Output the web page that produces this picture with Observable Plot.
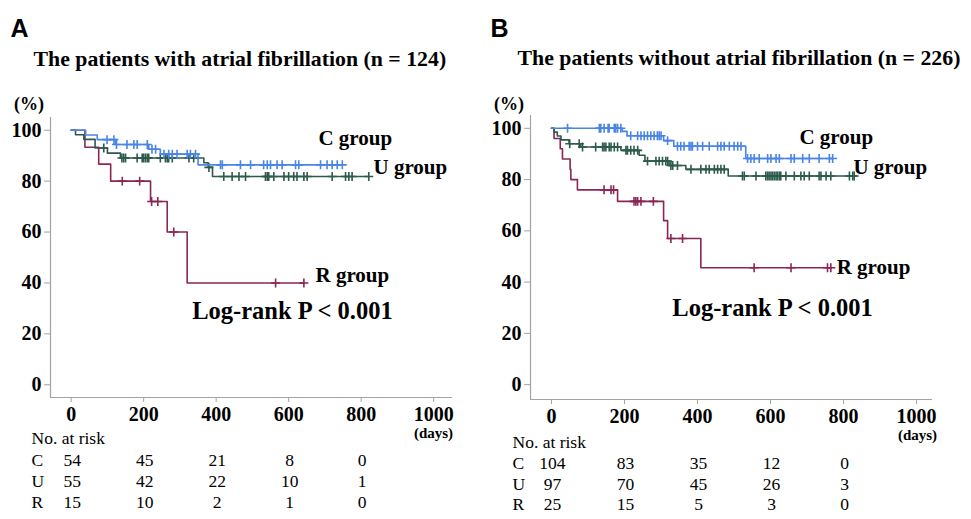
<!DOCTYPE html>
<html>
<head>
<meta charset="utf-8">
<script src="https://cdn.jsdelivr.net/npm/d3@7"></script>
<script src="https://cdn.jsdelivr.net/npm/@observablehq/plot@0.6"></script>
<style>
  html, body { margin: 0; padding: 0; background: #fff; }
  #wrap { position: relative; width: 971px; height: 519px; overflow: hidden; background: #fff; }
  #wrap svg { position: absolute; top: 0; overflow: visible; font-family: "Liberation Serif", "Times New Roman", serif; }
</style>
</head>
<body>
<div id="wrap"></div>
<script>
// ---------- Data ----------
const riskTimes = [0, 200, 400, 600, 800];
const xTicks = [0, 200, 400, 600, 800, 1000];
const yTicks = [0, 20, 40, 60, 80, 100];
const groupNames = ["C", "U", "R"];

// Panel A: patients with atrial fibrillation (n = 124)
const A_C_time = [0, 40, 72, 122, 214, 246, 350, 748];
const A_C_surv = [100, 98.1, 96.3, 94.4, 92.5, 90.6, 86.4, 86.4];
const A_C_cens = [99, 118, 125, 154, 173, 182, 210, 223, 233, 256, 269, 279, 292, 320, 329, 343, 412, 417, 467, 495, 531, 541, 550, 568, 582, 619, 628, 688, 706, 720, 734, 748];

const A_U_time = [0, 12, 35, 66, 100, 136, 366, 378, 390, 821];
const A_U_surv = [100, 98.2, 96.4, 93.0, 91.0, 89.1, 87.2, 85.4, 81.8, 81.8];
const A_U_cens = [90, 140, 145, 150, 182, 196, 200, 205, 210, 214, 246, 260, 265, 269, 279, 325, 338, 380, 421, 444, 463, 481, 536, 541, 545, 559, 587, 600, 614, 623, 642, 651, 720, 757, 766, 775, 821];

const A_R_time = [0, 38, 76, 109, 219, 265, 320, 642];
const A_R_surv = [100, 93.3, 86.7, 80, 72, 60, 40, 40];
const A_R_cens = [141, 189, 222, 239, 283, 564, 642];

const A_risk_C = [54, 45, 21, 8, 0];
const A_risk_U = [55, 42, 22, 10, 1];
const A_risk_R = [15, 10, 2, 1, 0];

// Panel B: patients without atrial fibrillation (n = 226)
const B_C_time = [0, 194, 207, 307, 335, 532, 770];
const B_C_surv = [100, 98.8, 97.1, 95.2, 93.0, 88.2, 88.2];
const B_C_cens = [44, 131, 135, 144, 155, 158, 172, 176, 181, 190, 217, 236, 245, 254, 263, 272, 281, 290, 295, 300, 318, 345, 354, 363, 377, 382, 386, 400, 414, 432, 455, 464, 473, 487, 500, 510, 519, 537, 546, 555, 569, 592, 601, 615, 624, 656, 665, 688, 706, 733, 761, 770];

const B_U_time = [0, 7, 16, 26, 48, 80, 190, 240, 256, 322, 368, 484, 829];
const B_U_surv = [100, 98.5, 97, 95.5, 94.0, 92.7, 91.4, 89.5, 87.2, 85.5, 84.0, 81.4, 81.4];
const B_U_cens = [50, 76, 85, 121, 140, 144, 149, 158, 163, 172, 181, 204, 208, 217, 226, 236, 263, 286, 295, 304, 313, 318, 327, 332, 345, 382, 409, 423, 432, 446, 455, 464, 473, 523, 528, 560, 587, 592, 596, 601, 605, 610, 615, 619, 624, 628, 642, 665, 683, 692, 706, 733, 738, 752, 765, 816, 825, 829];

const B_R_time = [0, 7, 24, 30, 51, 53, 71, 181, 307, 318, 409, 765];
const B_R_surv = [100, 96, 92, 88, 84, 80, 76, 71.5, 64, 57, 45.6, 45.6];
const B_R_cens = [144, 163, 170, 226, 231, 236, 245, 279, 327, 359, 555, 656, 756, 765];

const B_risk_C = [104, 83, 35, 12, 0];
const B_risk_U = [97, 70, 45, 26, 3];
const B_risk_R = [25, 15, 5, 3, 0];

// ---------- Style ----------
const colors = { C: "#4a85e6", U: "#2c5a4c", R: "#8a2656" };
const axisGray = "#a3a3a3";

// ---------- Helpers ----------
function stepData(times, surv) {
  return times.map((t, i) => ({ t, s: surv[i] }));
}
function levelAt(times, surv, t) {
  let v = surv[0];
  for (let i = 0; i < times.length; i++) if (times[i] <= t) v = surv[i];
  return v;
}
function censData(times, surv, cens) {
  return cens.map(t => ({ t, s: levelAt(times, surv, t) }));
}

function panel(cfg) {
  const groups = [
    { g: "R", time: cfg.R_time, surv: cfg.R_surv, cens: cfg.R_cens },
    { g: "U", time: cfg.U_time, surv: cfg.U_surv, cens: cfg.U_cens },
    { g: "C", time: cfg.C_time, surv: cfg.C_surv, cens: cfg.C_cens }
  ];
  const marks = [];
  // axis lines
  marks.push(Plot.ruleX([cfg.xDomain[0]], { stroke: axisGray, strokeWidth: 1.2 }));
  marks.push(Plot.ruleY([cfg.yDomain[0]], { stroke: axisGray, strokeWidth: 1.2 }));
  marks.push(Plot.axisY({ ticks: yTicks, tickSize: 6, tickPadding: 3, fontSize: 20, fontWeight: "bold", stroke: axisGray, fill: "#000", label: null }));
  marks.push(Plot.axisX({ ticks: xTicks, tickFormat: d => String(d), tickSize: 5, tickPadding: 4, fontSize: 20, fontWeight: "bold", stroke: axisGray, fill: "#000", label: null }));
  for (const G of groups) {
    marks.push(Plot.line(stepData(G.time, G.surv), { x: "t", y: "s", curve: "step-after", stroke: colors[G.g], strokeWidth: 1.6 }));
    marks.push(Plot.dot(censData(G.time, G.surv, G.cens), { x: "t", y: "s", symbol: "plus", r: 3, stroke: colors[G.g], strokeWidth: 1.6 }));
  }
  // group labels and log-rank
  const lab = cfg.labels;
  for (const k of groupNames) {
    marks.push(Plot.text([`${k} group`], { x: lab[k][0], y: lab[k][1], text: d => d, textAnchor: "start", fontSize: 21, fontWeight: "bold", fill: "#000" }));
  }
  marks.push(Plot.text(["Log-rank P < 0.001"], { x: lab.P[0], y: lab.P[1], text: d => d, textAnchor: "start", fontSize: 24.5, fontWeight: "bold", fill: "#000" }));
  // panel letter, title, units
  marks.push(Plot.text([cfg.letter], { frameAnchor: "top-left", dx: -40, dy: cfg.letterDy, text: d => d, textAnchor: "start", fontSize: 25, fontWeight: "bold", fontFamily: "Liberation Sans, Arial, sans-serif", fill: "#000" }));
  marks.push(Plot.text([cfg.title], { frameAnchor: "top-left", dx: cfg.titleDx, dy: cfg.titleDy, text: d => d, textAnchor: "start", fontSize: 21.8, fontWeight: "bold", fill: "#000" }));
  marks.push(Plot.text(["(%)"], { frameAnchor: "top-left", dx: -21.5, dy: cfg.pctDy, text: d => d, textAnchor: "middle", fontSize: 18, fontWeight: "bold", fill: "#000" }));
  marks.push(Plot.text(["(days)"], { frameAnchor: "bottom-right", dx: cfg.daysDx, dy: 40, text: d => d, textAnchor: "middle", fontSize: 15, fontWeight: "bold", fill: "#000" }));
  // number at risk table
  marks.push(Plot.text(["No. at risk"], { frameAnchor: "bottom-left", dx: cfg.tableDx, dy: cfg.rowDy[0], text: d => d, textAnchor: "start", fontSize: 17.5, fill: "#000" }));
  const riskRows = [cfg.risk_C, cfg.risk_U, cfg.risk_R];
  groupNames.forEach((k, i) => {
    marks.push(Plot.text([k], { frameAnchor: "bottom-left", dx: cfg.tableDx, dy: cfg.rowDy[i + 1], text: d => d, textAnchor: "start", fontSize: 17.5, fill: "#000" }));
    const rows = riskTimes.map((t, j) => ({ t, n: riskRows[i][j] }));
    marks.push(Plot.text(rows, { x: "t", frameAnchor: "bottom", dx: 1, dy: cfg.rowDy[i + 1], text: d => String(d.n), textAnchor: "middle", fontSize: 17.5, fill: "#000" }));
  });
  const svg = Plot.plot({
    width: cfg.width,
    height: 519,
    marginLeft: 50,
    marginRight: cfg.marginRight,
    marginTop: cfg.marginTop,
    marginBottom: cfg.marginBottom,
    x: { domain: cfg.xDomain, axis: null },
    y: { domain: cfg.yDomain, axis: null },
    style: { fontFamily: "Liberation Serif, Times New Roman, serif", background: "transparent", color: "#000", overflow: "visible" },
    marks
  });
  svg.style.left = cfg.left + "px";
  return svg;
}

const wrap = document.getElementById("wrap");
wrap.appendChild(panel({
  left: 0, width: 485, marginRight: 33, marginTop: 117, marginBottom: 122,
  xDomain: [-57, 1052], yDomain: [-5, 105],
  C_time: A_C_time, C_surv: A_C_surv, C_cens: A_C_cens,
  U_time: A_U_time, U_surv: A_U_surv, U_cens: A_U_cens,
  R_time: A_R_time, R_surv: A_R_surv, R_cens: A_R_cens,
  risk_C: A_risk_C, risk_U: A_risk_U, risk_R: A_risk_R,
  labels: { C: [682, 96.9], U: [834, 85.4], R: [674, 42.9], P: [334, 29.1] },
  letter: "A", letterDy: -98,
  title: "The patients with atrial fibrillation (n = 124)", titleDx: -17, titleDy: -67,
  pctDy: -20, daysDx: -19, tableDx: -19, rowDy: [46, 68, 89, 110]
}));
wrap.appendChild(panel({
  left: 480, width: 491, marginRight: 39, marginTop: 115, marginBottom: 120,
  xDomain: [-57.5, 1043.5], yDomain: [-5.8, 105],
  C_time: B_C_time, C_surv: B_C_surv, C_cens: B_C_cens,
  U_time: B_U_time, U_surv: B_U_surv, U_cens: B_U_cens,
  R_time: B_R_time, R_surv: B_R_surv, R_cens: B_R_cens,
  risk_C: B_risk_C, risk_U: B_risk_U, risk_R: B_risk_R,
  labels: { C: [679, 96.4], U: [827, 84.7], R: [781, 45.6], P: [331, 29.7] },
  letter: "B", letterDy: -96,
  title: "The patients without atrial fibrillation (n = 226)", titleDx: -13, titleDy: -66,
  pctDy: -18, daysDx: -15, tableDx: -18, rowDy: [48, 69, 90, 110]
}));
</script>
</body>
</html>
